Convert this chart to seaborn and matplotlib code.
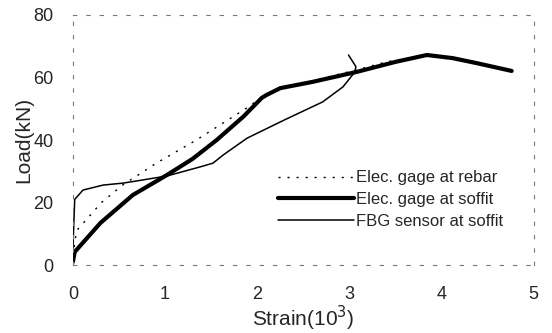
import pandas as pd
import numpy as np
import matplotlib
matplotlib.use('Agg')
import matplotlib.pyplot as plt
import seaborn as sns

# Données (Strain en 10^-3, Load en kN)
rebar_x = [0, 0.01, 0.04, 0.13, 0.31, 0.54, 0.9, 1.34, 1.68, 1.9, 2.1, 2.6, 3.1, 3.4, 3.84, 4.2, 4.76]
rebar_y = [0, 5, 11, 14, 20, 25.6, 32.5, 40, 46.4, 50.5, 54.8, 59, 62.6, 65, 67.2, 65.6, 62.1]

soffit_x = [0, 0.0, 0.02, 0.3, 0.65, 1.02, 1.3, 1.56, 1.85, 2.05, 2.1, 2.25, 2.6, 3.08, 3.5, 3.84, 4.12, 4.38, 4.76]
soffit_y = [0, 2, 4.2, 13.5, 22.4, 28.8, 34, 40, 47.5, 53.5, 54.4, 56.6, 58.6, 61.8, 65, 67.2, 66.2, 64.6, 62.1]

fbg_x = [0, 0, 0.02, 0.11, 0.33, 0.54, 0.69, 1.02, 1.38, 1.52, 1.63, 1.89, 2.3, 2.71, 2.93, 3.06, 3.07, 2.99]
fbg_y = [0, 10, 21, 24, 25.6, 26.2, 26.9, 28.5, 31.4, 32.6, 35.2, 40.6, 46.5, 52.2, 57, 61.8, 63.5, 67.2]

labels = ['Elec. gage at rebar', 'Elec. gage at soffit', 'FBG sensor at soffit']
x_ticks = [0, 1, 2, 3, 4, 5]
y_ticks = [0, 20, 40, 60, 80]

sns.set_style('white')
plt.rcParams['font.family'] = ['Liberation Sans', 'DejaVu Sans']

fig = plt.figure(figsize=(5.52, 3.33), dpi=100)
ax = fig.add_axes([0.132, 0.204, 0.835, 0.751])

df_rebar = pd.DataFrame({'x': rebar_x, 'y': rebar_y})
df_soffit = pd.DataFrame({'x': soffit_x, 'y': soffit_y})
df_fbg = pd.DataFrame({'x': fbg_x, 'y': fbg_y})

sns.lineplot(data=df_rebar, x='x', y='y', sort=False, ax=ax, color='black',
             lw=1.0, linestyle=(0, (1.5, 5)), label=labels[0])
sns.lineplot(data=df_soffit, x='x', y='y', sort=False, ax=ax, color='black',
             lw=3.0, label=labels[1])
sns.lineplot(data=df_fbg, x='x', y='y', sort=False, ax=ax, color='black',
             lw=1.1, label=labels[2])

ax.set_xlim(0, 5)
ax.set_ylim(0, 80)
ax.set_xticks(x_ticks)
ax.set_yticks(y_ticks)
ax.tick_params(labelsize=13, direction='in', length=3, color='#888888')
ax.tick_params(axis='x', pad=15)
ax.tick_params(axis='y', pad=14)
ax.set_xlabel(r'Strain(10$^3$)', fontsize=15, labelpad=1)
ax.set_ylabel('Load(kN)', fontsize=15, labelpad=0)

for s in ax.spines.values():
    s.set_linestyle((0, (3, 9)))
    s.set_linewidth(0.8)
    s.set_color('#777777')

leg = ax.legend(loc='lower right', bbox_to_anchor=(0.966, 0.085), frameon=False,
                fontsize=12, handlelength=4.6, handletextpad=0.1, labelspacing=0.4)

plt.savefig('out.png', dpi=100)
